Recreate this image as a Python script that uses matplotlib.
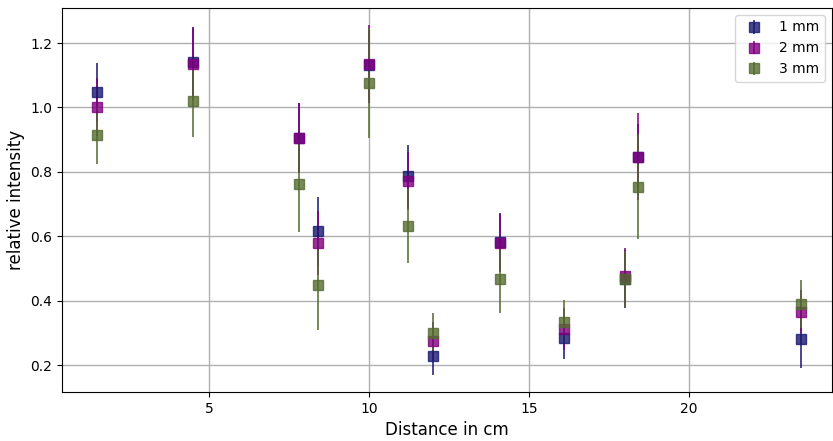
import matplotlib
matplotlib.use("Agg")
import matplotlib.pyplot as plt

distance = [1.5, 4.5, 7.8, 8.4, 10.0, 11.2, 12.0, 14.1, 16.1, 18.0, 18.4, 23.5]

int_1mm = [1.048, 1.141, 0.905, 0.616, 1.132, 0.787, 0.228, 0.583, 0.284, 0.467, 0.847, 0.281]
err_1mm = [0.090, 0.110, 0.110, 0.106, 0.110, 0.096, 0.060, 0.090, 0.066, 0.090, 0.100, 0.090]

int_2mm = [1.000, 1.135, 0.905, 0.579, 1.135, 0.771, 0.275, 0.578, 0.312, 0.475, 0.847, 0.366]
err_2mm = [0.090, 0.112, 0.110, 0.100, 0.120, 0.090, 0.060, 0.090, 0.066, 0.088, 0.136, 0.066]

int_3mm = [0.914, 1.020, 0.762, 0.448, 1.076, 0.632, 0.300, 0.468, 0.335, 0.467, 0.754, 0.389]
err_3mm = [0.090, 0.112, 0.150, 0.140, 0.170, 0.115, 0.062, 0.107, 0.067, 0.087, 0.163, 0.075]

labels = ["1 mm", "2 mm", "3 mm"]
colors = ["midnightblue", "purple", "darkolivegreen"]

fig = plt.figure(figsize=(8.33, 4.41), dpi=100)
ax = fig.add_axes([0.0744, 0.111, 0.9246, 0.871])

for y, e, c, lab in zip([int_1mm, int_2mm, int_3mm], [err_1mm, err_2mm, err_3mm], colors, labels):
    ax.errorbar(distance, y, yerr=e, fmt="s", color=c, ms=7, elinewidth=1.4,
                alpha=0.8, label=lab)

ax.set_xlim(0.4, 24.47)
ax.set_ylim(0.116, 1.309)
ax.set_xticks([5, 10, 15, 20])
ax.set_yticks([0.2, 0.4, 0.6, 0.8, 1.0, 1.2])
ax.grid(True, color="#b0b0b0", linewidth=1.0)
ax.set_axisbelow(True)
ax.set_xlabel("Distance in cm", fontsize=12)
ax.set_ylabel("relative intensity", fontsize=12)
ax.legend(loc="upper right")

fig.savefig("out.png", dpi=100)
